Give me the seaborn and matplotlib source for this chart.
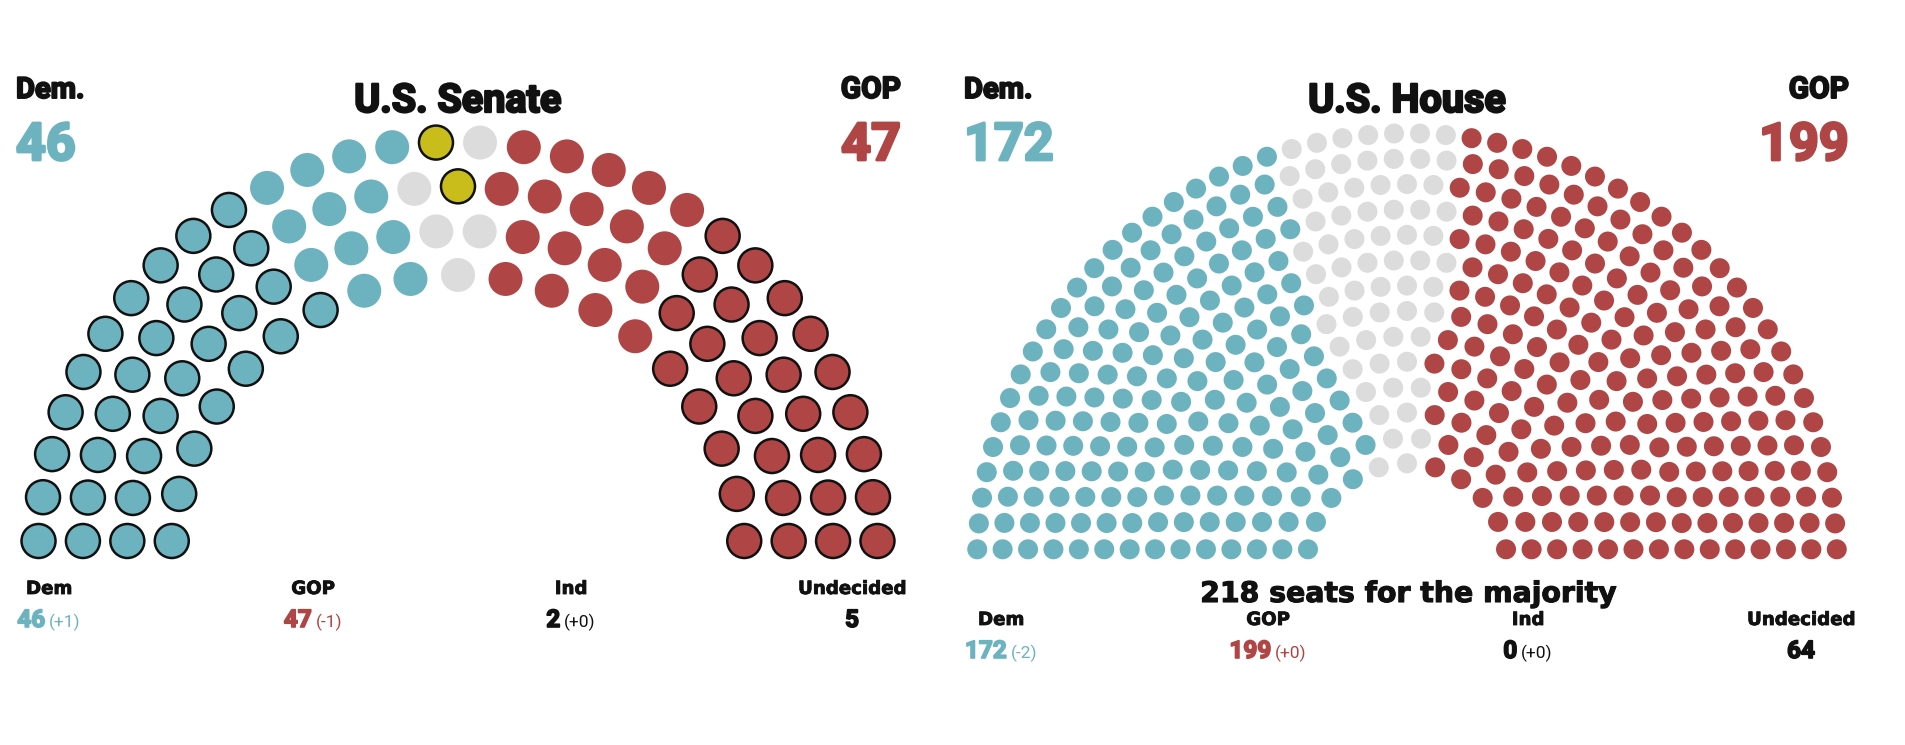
import numpy as np
import pandas as pd
import matplotlib
matplotlib.use("Agg")
import matplotlib.pyplot as plt
import matplotlib.patheffects as pe
import seaborn as sns

# ---------------- data ----------------
parties = ["Dem", "GOP", "Ind", "Undecided"]
senate_totals = [46, 47, 2, 5]
senate_changes = ["(+1)", "(-1)", "(+0)", ""]
house_totals = [172, 199, 0, 64]
house_changes = ["(-2)", "(+0)", "(+0)", ""]
majority_note = "218 seats for the majority"

# seats per row (inner -> outer)
senate_row_seats = [19, 24, 27, 30]
house_row_seats = [11, 14, 17, 20, 23, 26, 29, 33, 36, 39, 42, 45, 48, 52]

# seat blocks in left-to-right order: party, held over (not up), count
senate_block_party = ["Dem", "Dem", "Undecided", "Ind", "Undecided", "GOP", "GOP"]
senate_block_holdover = [True, False, False, True, False, False, True]
senate_block_count = [34, 12, 2, 2, 3, 18, 29]

house_block_party = ["Dem", "Undecided", "GOP"]
house_block_count = [172, 64, 199]

colors = {"Dem": "#6cb3bf", "GOP": "#b04545", "Ind": "#c8bd1b", "Undecided": "#dcdcdc"}
text_colors = {"Dem": "#6cb3bf", "GOP": "#b04545", "Ind": "#111111", "Undecided": "#111111"}


def seat_positions(row_seats, cx, cy, r_in, r_out, lift):
    radii = np.linspace(r_in, r_out, len(row_seats))
    recs = []
    for r, n in zip(radii, row_seats):
        t0 = np.arcsin(lift / r)
        angles = t0 + np.arange(n) * (np.pi - 2 * t0) / (n - 1)
        for a in angles:
            recs.append((round(a, 6), -r, cx - r * np.cos(a), cy - r * np.sin(a)))
    recs.sort()
    return pd.DataFrame(recs, columns=["angle", "negr", "x", "y"])


def assign(df, block_party, block_count, block_hold=None):
    party, hold = [], []
    for i, (p, c) in enumerate(zip(block_party, block_count)):
        party += [p] * c
        hold += [block_hold[i] if block_hold is not None else False] * c
    df = df.copy()
    df["party"] = party
    df["hold"] = hold
    return df


senate = assign(seat_positions(senate_row_seats, 458, 562, 287, 420, 21),
                senate_block_party, senate_block_count, senate_block_holdover)
house = assign(seat_positions(house_row_seats, 1407, 563.3, 100, 430, 14),
               house_block_party, house_block_count)

sns.set_theme(style="white")
plt.rcParams["font.family"] = ["Roboto", "DejaVu Sans"]
COND = ["Roboto", "DejaVu Sans"]
WIDE = ["DejaVu Sans"]

W, H = 1906, 745
fig = plt.figure(figsize=(W / 100, H / 100), dpi=100)
ax = fig.add_axes([0, 0, 1, 1])

def draw_seats(df, diam):
    s = (diam * 0.72) ** 2
    plain = df[~df["hold"]]
    held = df[df["hold"]]
    if len(plain):
        sns.scatterplot(data=plain, x="x", y="y", hue="party", palette=colors,
                        s=s, linewidth=0, legend=False, ax=ax, zorder=3)
    if len(held):
        sns.scatterplot(data=held, x="x", y="y", hue="party", palette=colors,
                        s=s, edgecolor="#111111", linewidth=1.8, legend=False, ax=ax, zorder=3)

draw_seats(senate, 34)
draw_seats(house, 20)

ax.set_xlim(0, W)
ax.set_ylim(H, 0)
ax.axis("off")

ink = "#111111"

def htext(x, y, s, size, color=ink, ha="left", stroke=1.0, fam=COND):
    t = ax.text(x, y, s, fontsize=size, fontweight="bold", family=fam,
                color=color, ha=ha, va="baseline")
    if stroke:
        t.set_path_effects([pe.withStroke(linewidth=stroke, foreground=color)])
    return t

def header(x_left, x_right, x_mid, title, dem, gop):
    htext(x_left, 98, "Dem.", 21, stroke=1.4)
    htext(x_right, 98, "GOP", 21.5, ha="right", stroke=1.4)
    htext(x_mid, 112, title, 28.5, ha="center", stroke=1.7)
    htext(x_left, 160, str(dem), 37.5, color=colors["Dem"], stroke=2.0)
    htext(x_right, 160, str(gop), 37.5, color=colors["GOP"], ha="right", stroke=2.0)

header(16, 901, 458, "U.S. Senate", senate_totals[0], senate_totals[1])
header(964, 1849, 1407, "U.S. House", house_totals[0], house_totals[1])

renderer = fig.canvas.get_renderer()

def legend_row(centers, y_label, y_num, totals, changes):
    for xc, p, tot, chg in zip(centers, parties, totals, changes):
        htext(xc, y_label, p, 13.1, ha="center", stroke=0.6, fam=WIDE)
        t1 = htext(0, y_num, str(tot), 17.5, color=text_colors[p], stroke=1.2)
        w1 = t1.get_window_extent(renderer).width
        if chg:
            t2 = ax.text(0, y_num, chg, fontsize=12.5, fontweight="normal", family=COND,
                         color=text_colors[p], ha="left", va="baseline")
            w2 = t2.get_window_extent(renderer).width
            gap = 4
            x0 = xc - (w1 + gap + w2) / 2
            t1.set_x(x0)
            t2.set_x(x0 + w1 + gap)
        else:
            t1.set_x(xc - w1 / 2)

legend_row([49, 313, 571, 852], 594, 627, senate_totals, senate_changes)
htext(1409, 602, majority_note, 20.4, ha="center", stroke=0.8, fam=WIDE)
legend_row([1001, 1268, 1528, 1801], 625, 658, house_totals, house_changes)

fig.savefig("out.png", dpi=100, facecolor="white")
